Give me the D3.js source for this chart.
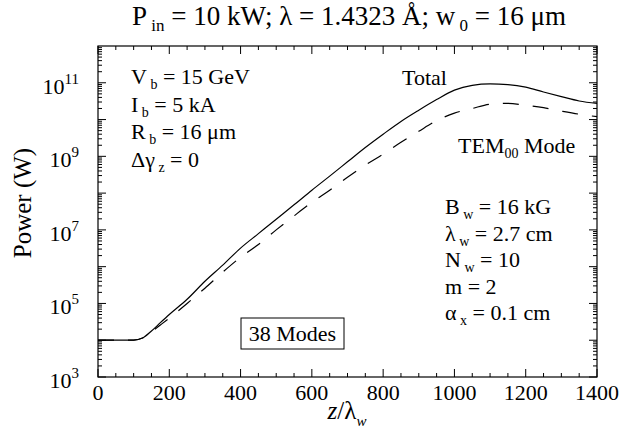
<!DOCTYPE html>
<html><head><meta charset="utf-8">
<script src="https://cdn.jsdelivr.net/npm/d3@7"></script>
<style>
body{margin:0;background:#fff;}
text{font-family:"Liberation Serif","Times New Roman",serif;fill:#000;}
</style></head>
<body><svg id="c" width="619" height="444"></svg>
<script>
// ---- data ----
const zPos = [0,50,100,125,150,175,200,250,300,350,400,450,500,550,600,650,700,750,800,850,900,950,1000,1050,1100,1150,1200,1250,1300,1350,1400];
const totalPower = [1e4,1e4,1.01e4,1.15e4,1.78e4,3.0e4,5.0e4,1.3e5,4.0e5,1.1e6,3.2e6,7.9e6,1.95e7,4.8e7,1.2e8,2.9e8,7.1e8,1.74e9,4.0e9,8.9e9,1.8e10,3.5e10,6.3e10,8.5e10,9.3e10,8.9e10,7.6e10,5.6e10,4.2e10,3.2e10,2.75e10];
const tem00Power = [1e4,1e4,1.01e4,1.15e4,1.7e4,2.6e4,4.0e4,1.0e5,2.6e5,7.1e5,1.8e6,4.0e6,1.0e7,2.4e7,5.6e7,1.2e8,2.7e8,5.8e8,1.15e9,2.4e9,4.8e9,9.3e9,1.5e10,2.0e10,2.6e10,2.75e10,2.45e10,2.1e10,1.7e10,1.4e10,1.2e10];
const xTickLabels = [0,200,400,600,800,1000,1200,1400];
const yTickExponents = [3,5,7,9,11];
const leftNotes = [["V","b"," = 15 GeV"],["I","b"," = 5 kA"],["R","b"," = 16 \u03bcm"],["\u0394\u03b3","z"," = 0"]];
const rightNotes = [["B","w"," = 16 kG"],["\u03bb","w"," = 2.7 cm"],["N","w"," = 10"],["m","",  " = 2"],["\u03b1","x"," = 0.1 cm"]];

// ---- layout ----
const L=98,R=597,T=46,B=377;
const svg=d3.select("#c");
const x=d3.scaleLinear().domain([0,1400]).range([L,R]);
const y=d3.scaleLog().domain([1e3,1e12]).range([B,T]);

// frame
svg.append("rect").attr("x",L).attr("y",T).attr("width",R-L).attr("height",B-T)
  .attr("fill","none").attr("stroke","#000").attr("stroke-width",1.2);

// x ticks (bottom & top, inward)
const g=svg.append("g").attr("stroke","#000").attr("stroke-width",1);
d3.range(0,1401,50).forEach(v=>{
  const len = v%200===0 ? 8 : 4;
  g.append("line").attr("x1",x(v)).attr("x2",x(v)).attr("y1",B).attr("y2",B-len);
  g.append("line").attr("x1",x(v)).attr("x2",x(v)).attr("y1",T).attr("y2",T+len);
});
// y ticks (left & right, inward), log minors
for(let e=3;e<12;e++){
  for(let m=1;m<10;m++){
    const v=m*Math.pow(10,e);
    const len = m===1 ? 8 : 4;
    g.append("line").attr("x1",L).attr("x2",L+len).attr("y1",y(v)).attr("y2",y(v));
    g.append("line").attr("x1",R).attr("x2",R-len).attr("y1",y(v)).attr("y2",y(v));
  }
}
// x tick labels
svg.append("g").selectAll("text").data(xTickLabels).join("text")
  .attr("x",d=>x(d)).attr("y",B+23).attr("text-anchor","middle")
  .attr("font-size",22).text(d=>d);
// y tick labels
yTickExponents.forEach(e=>{
  const t=svg.append("text").attr("x",79).attr("y",y(Math.pow(10,e))+11)
    .attr("text-anchor","end").attr("font-size",22);
  t.append("tspan").text("10");
  t.append("tspan").attr("dy",-10).attr("font-size",15).text(e);
});
// axis titles
const xt=svg.append("text").attr("x",347).attr("y",419).attr("text-anchor","middle").attr("font-size",25);
xt.append("tspan").attr("font-style","italic").text("z");
xt.append("tspan").text("/\u03bb");
xt.append("tspan").attr("dy",7).attr("font-size",15).attr("font-style","italic").text("w");
svg.append("text").attr("transform","translate(31,203) rotate(-90)").attr("text-anchor","middle")
  .attr("font-size",25).text("Power (W)");

// title
const tt=svg.append("text").attr("x",349).attr("y",25).attr("text-anchor","middle").attr("font-size",27);
tt.append("tspan").text("P");
tt.append("tspan").attr("dy",6).attr("font-size",17).text(" in");
tt.append("tspan").attr("dy",-6).text(" = 10 kW; \u03bb = 1.4323 \u00c5; w");
tt.append("tspan").attr("dy",6).attr("font-size",17).text(" 0");
tt.append("tspan").attr("dy",-6).text(" = 16 \u03bcm");

// curves
const pts = (arr)=>zPos.map((z,i)=>[z,arr[i]]);
const line=d3.line().x(d=>x(d[0])).y(d=>y(d[1])).curve(d3.curveMonotoneX);
svg.append("path").attr("d",line(pts(totalPower))).attr("fill","none").attr("stroke","#000").attr("stroke-width",1.2);
svg.append("path").attr("d",line(pts(tem00Power))).attr("fill","none").attr("stroke","#000").attr("stroke-width",1.2)
  .attr("stroke-dasharray","16,14");

// notes
function note(xp,yp,parts){
  const t=svg.append("text").attr("x",xp).attr("y",yp).attr("font-size",22);
  t.append("tspan").text(parts[0]);
  if(parts[1]){ t.append("tspan").attr("dy",5).attr("font-size",14).text(" "+parts[1]); t.append("tspan").attr("dy",-5).text(parts[2]); }
  else t.append("tspan").text(parts[2]);
}
leftNotes.forEach((p,i)=>note(131,84+i*27.5,p));
rightNotes.forEach((p,i)=>note(445,214+i*26.5,p));

svg.append("text").attr("x",402).attr("y",85).attr("font-size",22).text("Total");
const tm=svg.append("text").attr("x",458).attr("y",153).attr("font-size",22);
tm.append("tspan").text("TEM");
tm.append("tspan").attr("dy",5).attr("font-size",14).text("00");
tm.append("tspan").attr("dy",-5).text(" Mode");

svg.append("rect").attr("x",241).attr("y",318).attr("width",103).attr("height",31)
  .attr("fill","#fff").attr("stroke","#000").attr("stroke-width",1);
svg.append("text").attr("x",292.5).attr("y",341).attr("text-anchor","middle").attr("font-size",22).text("38 Modes");
</script></body></html>
